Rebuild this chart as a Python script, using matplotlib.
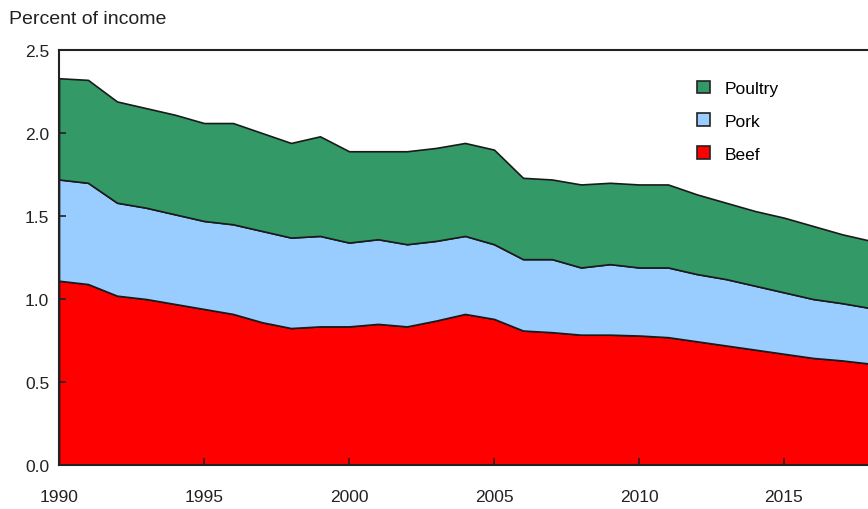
import matplotlib
matplotlib.use("Agg")
import matplotlib.pyplot as plt
import numpy as np
from matplotlib.patches import Patch

years = list(range(1990, 2019))
total = [2.33, 2.32, 2.19, 2.15, 2.11, 2.06, 2.06, 2.00, 1.94, 1.98,
         1.89, 1.89, 1.89, 1.91, 1.94, 1.90, 1.73, 1.72, 1.69, 1.70,
         1.69, 1.69, 1.63, 1.58, 1.53, 1.49, 1.44, 1.39, 1.35]
pork_top = [1.72, 1.70, 1.58, 1.55, 1.51, 1.47, 1.45, 1.41, 1.37, 1.38,
            1.34, 1.36, 1.33, 1.35, 1.38, 1.33, 1.24, 1.24, 1.19, 1.21,
            1.19, 1.19, 1.15, 1.12, 1.08, 1.04, 1.00, 0.975, 0.945]
beef = [1.11, 1.09, 1.02, 1.00, 0.97, 0.94, 0.91, 0.86, 0.825, 0.835,
        0.835, 0.85, 0.835, 0.87, 0.91, 0.88, 0.81, 0.80, 0.785, 0.785,
        0.78, 0.77, 0.745, 0.72, 0.695, 0.67, 0.645, 0.63, 0.61]
pork = [p - b for p, b in zip(pork_top, beef)]
poultry = [t - p for t, p in zip(total, pork_top)]

labels = ["Beef", "Pork", "Poultry"]
colors = ["#FF0000", "#99CCFF", "#339966"]

plt.rcParams['font.family'] = ['Liberation Sans', 'DejaVu Sans']

fig = plt.figure(figsize=(8.68, 5.10), dpi=100)
ax = fig.add_axes([59/868, 44/510, 812/868, 415/510])

polys = ax.stackplot(years, beef, pork, poultry, colors=colors,
                     edgecolor="#1a1a1a", linewidth=1.2)

ax.set_xlim(1990, 2018)
ax.set_ylim(0, 2.5)
ax.set_yticks(np.arange(0, 2.51, 0.5))
ax.set_yticklabels([f"{v:.1f}" for v in np.arange(0, 2.51, 0.5)])
ax.set_xticks(range(1990, 2016, 5))
ax.tick_params(axis="both", direction="in", length=5, width=1.2,
               labelsize=12.5, colors="#222222")
ax.tick_params(axis="x", pad=17)
ax.tick_params(axis="y", pad=7)
for s in ["left", "bottom", "top"]:
    ax.spines[s].set_linewidth(1.5)
    ax.spines[s].set_color("#222222")
ax.spines["right"].set_visible(False)

fig.text(9/868, 1 - 20/510, "Percent of income", fontsize=14,
         va="center", ha="left", color="#222222")

handles = [Patch(facecolor=colors[i], edgecolor="#222222", linewidth=1.2,
                 label=labels[i]) for i in [2, 1, 0]]
leg = ax.legend(handles=handles, loc="upper left",
                bbox_to_anchor=(681/868, 1 - 66/510), bbox_transform=fig.transFigure,
                frameon=False, fontsize=12.5, handlelength=0.75, handleheight=0.75,
                labelspacing=1.0, handletextpad=0.85)

fig.savefig("out.png", dpi=100)
